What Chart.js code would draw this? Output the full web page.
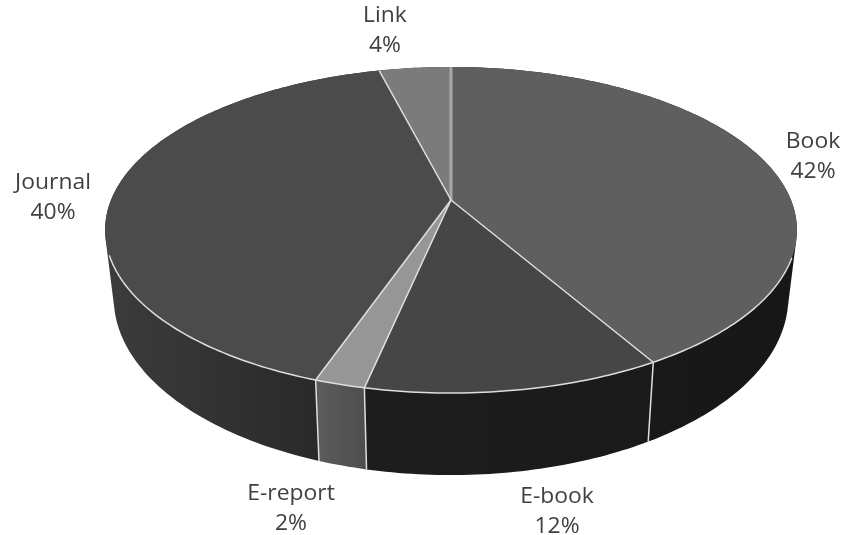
<!DOCTYPE html>
<html>
<head>
<meta charset="utf-8">
<title>Source types</title>
<script src="https://cdn.jsdelivr.net/npm/chart.js"></script>
<style>
  html, body { margin: 0; background: #fff; }
  canvas { display: block; }
</style>
</head>
<body>
<canvas id="myChart" width="842" height="535"></canvas>
<script>
var categories = ["Book", "E-book", "E-report", "Journal", "Link"];
var shares = [42, 12, 2, 40, 4];

var topColors = ["#5f5f5f", "#464646", "#969696", "#4b4b4b", "#7b7b7b"];
// left and right shade of each slice's outer wall
var wallColors = [
  ["#1a1a1a", "#171717"],
  ["#1d1d1d", "#1a1a1a"],
  ["#5c5c5c", "#4e4e4e"],
  ["#3c3c3c", "#242424"],
  ["#333333", "#333333"]
];
// centre of each label, in canvas pixels
var labelSpots = [[813, 142], [557, 497], [291, 494], [53, 183], [385, 16]];
var labelGap = 30;

// perspective of the tilted disc: apex, half axes, foreshortening
var apex = { x: 451, y: 200 };
var halfW = 340, halfH = 157.5, tilt = -0.184;
var skew = -2.4 * Math.PI / 180;
var skewPeak = 25 * Math.PI / 180;

function rim(angle) {
  var t = angle + Math.PI / 2;
  t += skew * Math.pow((1 - Math.cos(t - skewPeak)) / 2, 3);
  var X = Math.sin(t), Y = -Math.cos(t), w = 1 + tilt * Y;
  return { x: apex.x + halfW * X / w, y: apex.y + halfH * Y / w };
}

// bottom edge of the wall under a rim point
function foot(p) {
  return { x: 451 + 0.975 * (p.x - 451), y: 298 + 1.086 * (p.y - 230) };
}

function arcPoints(start, end) {
  var steps = Math.max(2, Math.ceil((end - start) * 60)), pts = [];
  for (var i = 0; i <= steps; i++) pts.push(rim(start + (end - start) * i / steps));
  return pts;
}

// adds a quad to the path, always wound the same way so overlaps don't cancel
function addQuad(ctx, q) {
  var area = 0;
  q.forEach(function (p, i) {
    var n = q[(i + 1) % 4];
    area += p.x * n.y - n.x * p.y;
  });
  if (area < 0) q = q.slice().reverse();
  ctx.moveTo(q[0].x, q[0].y);
  for (var i = 1; i < 4; i++) ctx.lineTo(q[i].x, q[i].y);
  ctx.closePath();
}

var disc3d = {
  id: "disc3d",
  beforeDatasetDraw: function (chart, args) {
    var ctx = chart.ctx, arcs = args.meta.data;
    var slices = arcs.map(function (a) { return arcPoints(a.startAngle, a.endAngle); });

    // walls: all the quads of a slice go in one path so no seams show between them
    slices.forEach(function (pts, i) {
      var xs = pts.map(function (p) { return p.x; });
      var g = ctx.createLinearGradient(Math.min.apply(null, xs), 0, Math.max.apply(null, xs), 0);
      g.addColorStop(0, wallColors[i][0]);
      g.addColorStop(1, wallColors[i][1]);
      ctx.beginPath();
      for (var j = 0; j < pts.length - 1; j++) {
        addQuad(ctx, [pts[j], pts[j + 1], foot(pts[j + 1]), foot(pts[j])]);
      }
      ctx.fillStyle = g;
      ctx.fill();
    });

    // top face
    slices.forEach(function (pts, i) {
      ctx.beginPath();
      ctx.moveTo(apex.x, apex.y);
      pts.forEach(function (p) { ctx.lineTo(p.x, p.y); });
      ctx.closePath();
      ctx.fillStyle = topColors[i];
      ctx.fill();
    });

    // slice borders and the front edge of the rim
    ctx.lineJoin = "round";
    slices.forEach(function (pts, i) {
      var p = pts[0];
      // the seam at twelve o'clock reads wider and greyer than the rest
      ctx.lineWidth = i === 0 ? 3 : 1.5;
      ctx.strokeStyle = i === 0 ? "#a8a8a8" : "#dedede";
      ctx.beginPath();
      ctx.moveTo(apex.x, apex.y);
      ctx.lineTo(p.x, p.y);
      if (p.y > 255) {
        var f = foot(p);
        ctx.lineTo(f.x, f.y);
      }
      ctx.stroke();
      ctx.lineWidth = 1.5;
      ctx.strokeStyle = "#dedede";
      ctx.beginPath();
      var pen = false;
      pts.forEach(function (q) {
        if (q.y > 255) {
          pen ? ctx.lineTo(q.x, q.y) : ctx.moveTo(q.x, q.y);
          pen = true;
        }
      });
      ctx.stroke();
    });
    return false;
  },
  afterDraw: function (chart) {
    var ctx = chart.ctx;
    ctx.save();
    ctx.font = '21px "Open Sans"';
    ctx.fillStyle = "#404040";
    ctx.textAlign = "center";
    ctx.textBaseline = "middle";
    categories.forEach(function (name, i) {
      var s = labelSpots[i];
      ctx.save();
      ctx.translate(s[0], s[1]);
      ctx.scale(1.09, 1);
      ctx.fillText(name, 0, 0);
      ctx.fillText(shares[i] + "%", 0, labelGap);
      ctx.restore();
    });
    ctx.restore();
  }
};

var myChart = new Chart(document.getElementById("myChart"), {
  type: "pie",
  data: {
    labels: categories,
    datasets: [{ data: shares, backgroundColor: topColors, borderWidth: 0 }]
  },
  options: {
    responsive: false,
    animation: false,
    plugins: { legend: { display: false }, tooltip: { enabled: false } }
  },
  plugins: [disc3d]
});
</script>
</body>
</html>
